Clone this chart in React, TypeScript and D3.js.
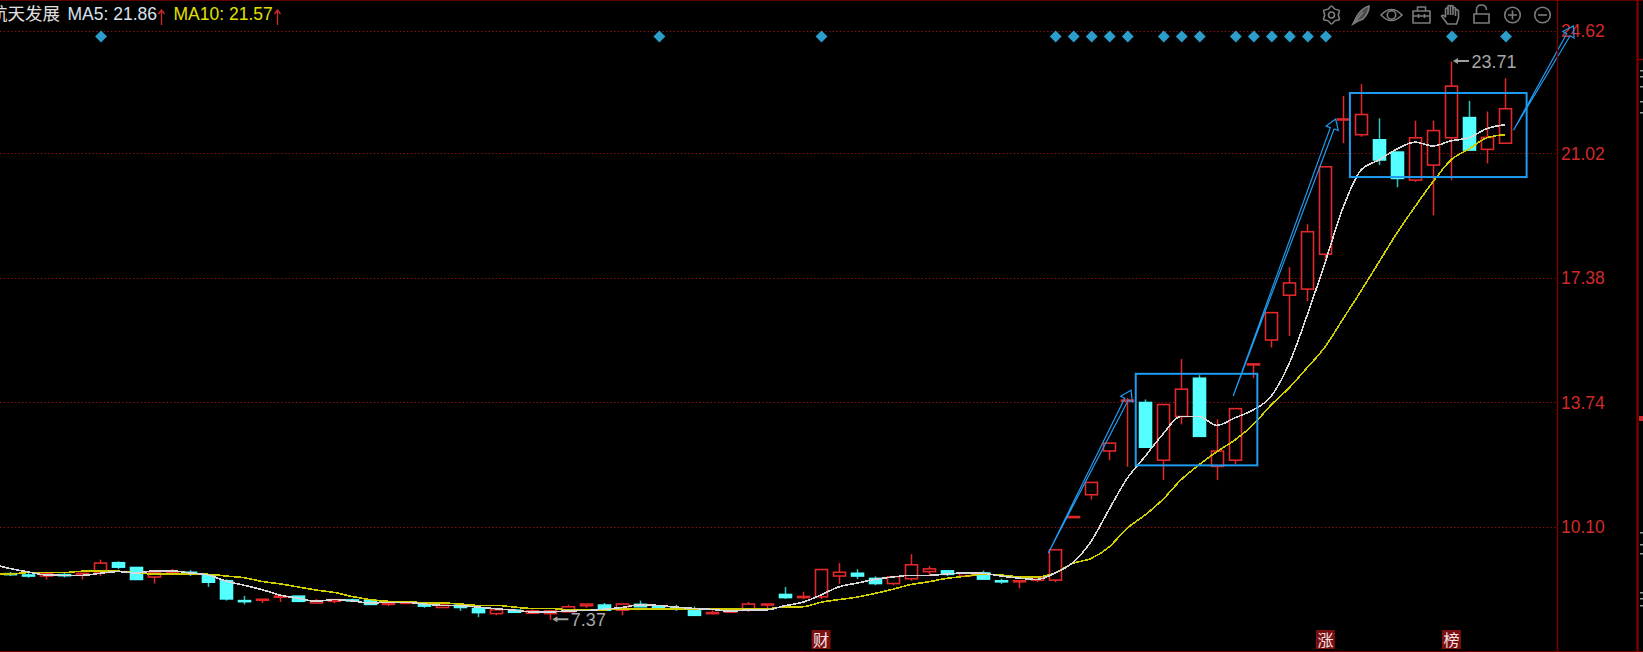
import React, { useEffect, useRef } from "react";
import * as d3 from "d3";

// prices, one entry per trading day
const opens = [8.72,8.68,8.65,8.69,8.68,8.75,9.04,8.90,8.62,8.74,8.76,8.68,8.51,7.93,7.96,8.03,8.06,7.86,7.91,7.95,7.94,7.82,7.85,7.85,7.73,7.80,7.70,7.55,7.65,7.56,7.55,7.60,7.78,7.80,7.65,7.82,7.75,7.72,7.63,7.55,7.59,7.68,7.82,8.11,8.04,8.04,8.65,8.73,8.58,8.43,8.57,8.78,8.80,8.65,8.74,8.51,8.50,8.53,8.53,10.38,11.03,12.31,13.80,13.73,12.04,13.32,14.44,11.86,12.04,14.85,15.56,16.87,17.05,18.07,22.02,21.57,21.42,21.06,20.24,20.68,21.48,22.07,21.14,21.32];
const closes = [8.71,8.65,8.73,8.68,8.73,9.03,8.91,8.55,8.75,8.76,8.75,8.47,7.98,7.92,7.97,8.06,7.91,7.92,7.96,7.94,7.82,7.86,7.89,7.77,7.80,7.73,7.58,7.66,7.59,7.63,7.63,7.75,7.83,7.65,7.83,7.75,7.74,7.71,7.50,7.58,7.67,7.83,7.83,8.02,8.05,8.84,8.76,8.65,8.43,8.63,8.98,8.86,8.70,8.73,8.56,8.50,8.51,8.60,9.42,10.39,11.39,12.54,13.80,12.42,13.67,14.12,12.74,12.31,13.55,14.86,16.36,17.23,18.73,20.63,22.03,22.16,20.83,20.29,21.48,21.69,22.99,21.12,21.49,22.33];
const highs = [8.77,8.75,8.73,8.74,8.73,9.13,9.08,8.90,8.80,8.86,8.82,8.70,8.56,8.07,7.97,8.06,8.06,7.98,7.96,7.99,7.94,7.86,7.89,7.85,7.86,7.80,7.70,7.66,7.65,7.68,7.63,7.81,7.83,7.86,7.83,7.93,7.78,7.81,7.76,7.65,7.67,7.89,7.83,8.33,8.19,8.84,9.03,8.85,8.64,8.63,9.29,8.94,8.80,8.74,8.81,8.57,8.53,8.60,9.42,10.39,11.39,12.54,13.86,13.82,13.67,15.00,14.53,13.24,13.55,14.86,16.36,17.69,18.95,20.63,22.70,23.05,22.05,21.06,21.98,21.98,23.71,22.56,22.25,23.22];
const lows = [8.65,8.60,8.55,8.61,8.55,8.65,8.85,8.55,8.43,8.71,8.65,8.33,7.93,7.82,7.86,7.89,7.91,7.86,7.85,7.91,7.82,7.77,7.85,7.72,7.73,7.63,7.45,7.50,7.59,7.56,7.37,7.60,7.72,7.65,7.50,7.75,7.70,7.63,7.50,7.53,7.59,7.60,7.70,7.98,7.97,7.98,8.42,8.56,8.38,8.38,8.51,8.68,8.65,8.63,8.56,8.42,8.29,8.47,8.47,10.38,10.89,12.04,11.85,12.42,11.46,13.09,12.74,11.46,11.93,14.45,15.34,15.68,16.70,17.88,21.32,21.51,20.68,20.03,20.19,19.21,20.24,21.12,20.73,21.32];
// averages start one day earlier, that day's candle is off the left edge
const ma5 = [9.00,8.87,8.77,8.68,8.67,8.67,8.73,8.78,8.74,8.80,8.80,8.74,8.68,8.50,8.38,8.25,8.09,8.00,7.91,7.96,7.92,7.86,7.88,7.88,7.83,7.79,7.78,7.74,7.69,7.65,7.60,7.60,7.63,7.64,7.68,7.73,7.81,7.79,7.74,7.70,7.67,7.62,7.66,7.66,7.78,7.88,8.09,8.33,8.44,8.55,8.62,8.67,8.67,8.71,8.74,8.73,8.65,8.59,8.55,8.73,9.04,9.65,10.58,11.49,12.14,12.80,13.32,13.32,13.06,13.28,13.51,13.90,14.85,16.26,17.81,19.42,20.53,20.83,21.15,21.35,21.24,21.39,21.48,21.75,21.86];
const ma10 = [8.71,8.71,8.75,8.75,8.75,8.79,8.79,8.79,8.74,8.71,8.71,8.71,8.70,8.65,8.60,8.49,8.42,8.33,8.24,8.17,8.05,7.96,7.91,7.91,7.86,7.86,7.83,7.79,7.79,7.74,7.70,7.70,7.66,7.65,7.66,7.69,7.69,7.69,7.69,7.69,7.69,7.68,7.69,7.69,7.75,7.75,7.88,7.96,8.03,8.14,8.26,8.40,8.48,8.58,8.64,8.70,8.68,8.63,8.62,8.74,9.02,9.16,9.49,10.04,10.43,10.89,11.46,11.90,12.29,12.63,13.07,13.65,14.15,14.74,15.35,16.17,16.99,17.84,18.69,19.46,20.19,20.83,21.15,21.48,21.57];

const priceTicks = [24.62, 21.02, 17.38, 13.74, 10.1];
const signalDays = [5,36,45,58,59,60,61,62,64,65,66,68,69,70,71,72,73,80,83];
const eventDays = [45, 73, 80];
const eventLabels = ["财", "涨", "榜"];

// hand drawn annotations: [day, price, day, price]
const boxes = [
  [62.5, 14.57, 69.25, 11.89],
  [74.39, 22.79, 84.2, 20.33],
];
const arrows = [
  [57.64, 9.32, 62.24, 14.09],
  [67.91, 13.92, 73.6, 22.03],
  [83.47, 21.7, 86.8, 24.75],
];

// bits of the next panel that show past the right border
const sideDashes = [70, 76, 86, 101, 112, 532, 544, 553, 592, 598, 605];

const W = 1643;
const H = 652;
const axisX = 1557.5;
const RED = "#e2282a";
const CYAN = "#54ffff";
const BLUE = "#1f9bf0";
const GREY = "#7c7c7c";

const gearPath = d3
  .lineRadial<number>()
  .angle((_, i) => (i * Math.PI) / 6)
  .radius((d) => d)
  .curve(d3.curveCardinalClosed)(d3.range(12).map((i) => (i % 2 ? 6.8 : 9)));

function Icons() {
  const common = { fill: "none", stroke: GREY, strokeWidth: 1.6 };
  return (
    <g {...common}>
      <g transform="translate(1331.5,15)">
        <path d={gearPath || ""} />
        <circle r="3" />
      </g>
      <g transform="translate(1361,15)">
        <path d="M-8,9 L-4,1 Q1,-7 8,-9 Q8,-2 2,4 L-3,6 Z" fill="#4a4a4a" />
        <path d="M-8,9 L2,-3" />
      </g>
      <g transform="translate(1391.5,15)">
        <path d="M-10.5,0 Q0,-11 10.5,0 Q0,11 -10.5,0 Z" />
        <circle r="4.2" />
      </g>
      <g transform="translate(1421.5,15)">
        <path d="M-8.5,-4 H8.5 V8 H-8.5 Z M-4,-4 V-8 H4 V-4 M-8.5,1 H8.5 M-3,-1 V3 M3,-1 V3" strokeLinejoin="round" />
      </g>
      <g transform="translate(1451.5,15)">
        <path d="M-4,9 L-10,1 Q-9,-1 -6,2 V-6 Q-5,-8 -3.5,-6 V-9 Q-2,-10 -1,-9 Q0,-10 1.5,-9 V-7 Q3,-8 4,-7 V-5 Q6,-6 7,-4 V3 L5,9 Z" strokeLinejoin="round" />
        <path d="M-3.5,-6 V0 M-1,-9 V0 M1.5,-8 V0 M4,-6 V1" />
      </g>
      <g transform="translate(1481.5,15)">
        <path d="M-7.5,-1 H7.5 V8 H-7.5 Z M-5,-1 V-5 Q-5,-10 0,-10 Q5,-10 5,-5" />
      </g>
      <g transform="translate(1512.5,15)">
        <circle r="7.8" />
        <path d="M-4.5,0 H4.5 M0,-4.5 V4.5" />
      </g>
      <g transform="translate(1542.5,15)">
        <circle r="7.8" />
        <path d="M-4.5,0 H4.5" />
      </g>
    </g>
  );
}

export default function App() {
  const ref = useRef<SVGSVGElement>(null);

  useEffect(() => {
    const svg = d3.select(ref.current);
    svg.select("#chart").remove();
    const g = svg.insert("g", "#overlay").attr("id", "chart");

    const x = d3.scaleLinear().domain([0, 83]).range([10, 1505]);
    const y = d3.scaleLinear().domain([24.62, 10.1]).range([30.5, 526.5]);
    const days = d3.range(opens.length);

    // price grid
    g.selectAll("line.grid")
      .data(priceTicks)
      .join("line")
      .attr("class", "grid")
      .attr("x1", 0)
      .attr("x2", axisX - 2)
      .attr("y1", (d) => Math.round(y(d)) + 0.5)
      .attr("y2", (d) => Math.round(y(d)) + 0.5)
      .attr("stroke", "#861212")
      .attr("stroke-dasharray", "1.5 2.2");

    g.selectAll("text.tick")
      .data(priceTicks)
      .join("text")
      .attr("class", "tick")
      .attr("x", 1561)
      .attr("y", (d) => y(d) + 6.5)
      .attr("font-family", "Liberation Sans")
      .attr("font-size", 17.5)
      .attr("fill", "#d02a2a")
      .text((d) => d.toFixed(2));

    // candles
    const isUp = (i: number) => closes[i] >= opens[i];
    const colour = (i: number) => (isUp(i) ? RED : CYAN);
    const wickColour = (i: number) => (isUp(i) ? RED : "#2fc4c4");
    const px = (v: number) => Math.round(x(v));

    g.selectAll("line.wick")
      .data(days)
      .join("line")
      .attr("class", "wick")
      .attr("x1", (i) => px(i) + 0.5)
      .attr("x2", (i) => px(i) + 0.5)
      .attr("y1", (i) => y(highs[i]))
      .attr("y2", (i) => y(lows[i]))
      .attr("stroke", wickColour)
      .attr("stroke-width", 1.5);

    g.selectAll("rect.body")
      .data(days)
      .join("rect")
      .attr("class", "body")
      .attr("x", (i) => px(i) - 5.5)
      .attr("width", 12)
      .attr("y", (i) => y(Math.max(opens[i], closes[i])))
      .attr("height", (i) => Math.max(Math.abs(y(opens[i]) - y(closes[i])), 1))
      .attr("fill", (i) => (isUp(i) ? "#000" : CYAN))
      .attr("stroke", colour)
      .attr("stroke-width", 1.6);

    // moving averages, the yellow one goes under the white one
    const line = d3
      .line<number>()
      .x((_, i) => x(i - 1))
      .y((d) => y(d))
      .curve(d3.curveMonotoneX);
    g.append("path")
      .attr("d", line(ma10))
      .attr("fill", "none")
      .attr("stroke", "#cfcf00")
      .attr("stroke-width", 1.6)
      .attr("shape-rendering", "crispEdges");
    g.append("path")
      .attr("d", line(ma5))
      .attr("fill", "none")
      .attr("stroke", "#d8d8d8")
      .attr("stroke-width", 1.6)
      .attr("shape-rendering", "crispEdges");

    // signal diamonds along the top
    g.selectAll("path.signal")
      .data(signalDays)
      .join("path")
      .attr("class", "signal")
      .attr("d", d3.symbol(d3.symbolSquare, 70))
      .attr("transform", (d) => `translate(${x(d) + 1},36.5) rotate(45)`)
      .attr("fill", "#2b9ecb");

    // event markers on the bottom edge
    const events = g
      .selectAll("g.event")
      .data(eventDays)
      .join("g")
      .attr("class", "event")
      .attr("transform", (d) => `translate(${x(d)},640)`);
    events
      .append("rect")
      .attr("x", -9)
      .attr("y", -10)
      .attr("width", 19)
      .attr("height", 19)
      .attr("fill", "#7c1010");
    events
      .append("text")
      .attr("x", 0.5)
      .attr("y", 5.5)
      .attr("text-anchor", "middle")
      .attr("font-family", "Noto Sans CJK SC")
      .attr("font-size", 16)
      .attr("fill", "#f2e6e6")
      .text((_, i) => eventLabels[i]);

    // high and low callouts
    const callouts = [
      { day: 80, price: d3.max(highs) as number },
      { day: 30, price: d3.min(lows) as number },
    ];
    const notes = g
      .selectAll("g.note")
      .data(callouts)
      .join("g")
      .attr("class", "note")
      .attr("transform", (d) => `translate(${x(d.day) + 1},${y(d.price) - 0.5})`);
    notes
      .append("path")
      .attr("d", "M1,0 L6,-3 V-1 H17 V1 H6 V3 Z")
      .attr("fill", "#a0a0a0");
    notes
      .append("text")
      .attr("x", 19.5)
      .attr("y", 6.5)
      .attr("font-family", "Liberation Sans")
      .attr("font-size", 18)
      .attr("fill", "#a8a8a8")
      .text((d) => d.price.toFixed(2));

    // drawn boxes
    g.selectAll("rect.box")
      .data(boxes)
      .join("rect")
      .attr("class", "box")
      .attr("x", (d) => x(d[0]))
      .attr("y", (d) => y(d[1]))
      .attr("width", (d) => x(d[2]) - x(d[0]))
      .attr("height", (d) => y(d[3]) - y(d[1]))
      .attr("fill", "none")
      .attr("stroke", BLUE)
      .attr("stroke-width", 2);

    // drawn arrows, a thin wedge from the tail that opens into the head
    const arrowPath = (d: number[]) => {
      const [x0, y0, x1, y1] = [x(d[0]), y(d[1]), x(d[2]), y(d[3])];
      const len = Math.hypot(x1 - x0, y1 - y0);
      const ux = (x1 - x0) / len;
      const uy = (y1 - y0) / len;
      const at = (back: number, side: number) =>
        [x1 - ux * back - uy * side, y1 - uy * back + ux * side] as [number, number];
      return d3.line()([[x0, y0], at(10, -2), at(10, -6.5), [x1, y1], at(10, 6.5), at(10, 2), [x0, y0]]);
    };
    g.selectAll("path.arrow")
      .data(arrows)
      .join("path")
      .attr("class", "arrow")
      .attr("d", arrowPath)
      .attr("fill", "none")
      .attr("stroke", BLUE)
      .attr("stroke-width", 1.2);

    g.selectAll("rect.side")
      .data(sideDashes)
      .join("rect")
      .attr("class", "side")
      .attr("x", 1640)
      .attr("y", (d) => d)
      .attr("width", 3)
      .attr("height", 1.5)
      .attr("fill", "#9a9a9a");
  }, []);

  return (
    <svg
      ref={ref}
      width={W}
      height={H}
      style={{ position: "fixed", left: 0, top: 0, background: "#000", display: "block" }}
    >
      <g id="overlay">
        <line x1={0} x2={W} y1={0.5} y2={0.5} stroke="#5a0000" />
        <line x1={0} x2={W} y1={651.5} y2={651.5} stroke="#6e0000" />
        <line x1={axisX} x2={axisX} y1={0} y2={H} stroke="#7a0000" strokeWidth={1.4} />
        <line x1={1637.5} x2={1637.5} y1={0} y2={H} stroke="#8a0000" strokeWidth={2} />
        <line x1={1637} x2={W} y1={59.5} y2={59.5} stroke="#8a0000" strokeWidth={1.5} />
        <rect x={1639} y={416} width={4} height={5} fill="#c42a2a" />
        <text x={-10} y={20} fontFamily="Noto Sans CJK SC" fontSize={17.5} fill="#e0e0e0">
          航天发展
        </text>
        <text x={67.5} y={20} fontFamily="Liberation Sans" fontSize={17.5} fill="#d6e2ee">
          MA5: 21.86
        </text>
        <text x={173.5} y={20} fontFamily="Liberation Sans" fontSize={17.5} fill="#e0e000">
          MA10: 21.57
        </text>
        <g stroke="#c42a2a" strokeWidth={1.4} fill="none">
          <path d="M161.5,25 V10 M158.5,14 L161.5,10 L164.5,14" />
          <path d="M277.5,25 V10 M274.5,14 L277.5,10 L280.5,14" />
        </g>
        <Icons />
      </g>
    </svg>
  );
}
